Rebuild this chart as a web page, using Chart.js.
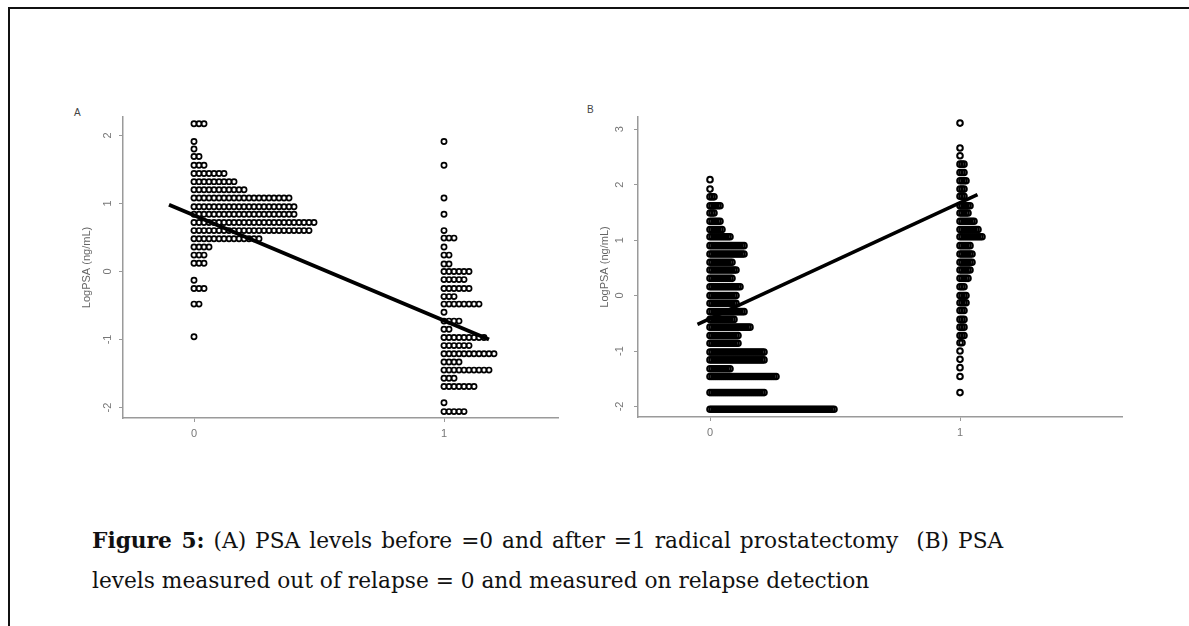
<!DOCTYPE html>
<html>
<head>
<meta charset="utf-8">
<script src="https://cdn.jsdelivr.net/npm/chart.js@4.4.1/dist/chart.umd.min.js"></script>
<style>
  body { margin: 0; background: #fff; width: 1189px; height: 626px; overflow: hidden; position: relative; }
  #frame { position: absolute; left: 8px; top: 7px; width: 1300px; height: 700px; border: 2px solid #111; }
  canvas { position: absolute; }
  .panel { position: absolute; font-family: "Liberation Sans", Arial, sans-serif; font-size: 10px; color: #444; }
  #caption { position: absolute; left: 92px; top: 521px; font-family: "DejaVu Serif", serif; font-size: 21.7px; line-height: 40px; color: #111; white-space: nowrap; }
  #caption .l1 { word-spacing: 2.1px; }
</style>
</head>
<body>
<div id="frame"></div>
<div class="panel" style="left:74px; top:107px;">A</div>
<div class="panel" style="left:587px; top:104px;">B</div>
<canvas id="chartA" width="488" height="350" style="left:80px; top:100px;"></canvas>
<canvas id="chartB" width="534" height="350" style="left:598px; top:100px;"></canvas>
<div id="caption"><span class="l1"><b>Figure 5:</b> (A) PSA levels before =0 and after =1 radical prostatectomy&nbsp; (B) PSA</span><br>levels measured out of relapse = 0 and measured on relapse detection</div>
<script>
// Panel A: LogPSA before (0) and after (1) radical prostatectomy
var levelsA0 = [2.17, 1.91, 1.80, 1.69, 1.56, 1.44, 1.32, 1.20, 1.08, 0.95, 0.84, 0.72, 0.60, 0.48, 0.36, 0.24, 0.12, -0.13, -0.25, -0.48, -0.96];
var countsA0 = [3, 1, 1, 2, 3, 7, 9, 11, 20, 21, 21, 25, 24, 14, 4, 3, 3, 1, 3, 2, 1];
var levelsA1 = [1.91, 1.56, 1.08, 0.84, 0.60, 0.49, 0.36, 0.24, 0.11, 0.00, -0.12, -0.25, -0.37, -0.48, -0.60, -0.73, -0.85, -0.97, -1.09, -1.21, -1.33, -1.45, -1.57, -1.69, -1.93, -2.06];
var countsA1 = [1, 1, 1, 1, 1, 3, 1, 2, 2, 6, 5, 6, 3, 8, 1, 4, 2, 9, 6, 11, 4, 10, 3, 7, 1, 5];
var fitAx = [-0.10, 1.18];
var fitAy = [0.98, -1.00];
var ticksAy = [-2, -1, 0, 1, 2];

// Panel B: LogPSA out of relapse (0) and on relapse detection (1)
var levelsB0 = [2.09, 1.92, 1.78, 1.62, 1.49, 1.34, 1.19, 1.06, 0.90, 0.75, 0.60, 0.46, 0.31, 0.16, 0.00, -0.14, -0.29, -0.43, -0.57, -0.72, -0.86, -1.02, -1.16, -1.32, -1.46, -1.75, -2.05];
var countsB0 = [1, 1, 3, 6, 3, 6, 7, 11, 18, 18, 12, 14, 12, 16, 14, 14, 18, 13, 21, 15, 15, 28, 28, 11, 34, 28, 63];
var levelsB1 = [3.11, 2.66, 2.52, 2.37, 2.22, 2.07, 1.92, 1.79, 1.62, 1.49, 1.34, 1.19, 1.06, 0.90, 0.75, 0.60, 0.46, 0.31, 0.16, 0.00, -0.13, -0.27, -0.43, -0.57, -0.72, -0.85, -1.00, -1.15, -1.30, -1.46, -1.75];
var countsB1 = [1, 1, 1, 3, 3, 4, 3, 3, 6, 5, 8, 10, 12, 6, 7, 7, 6, 5, 3, 4, 4, 3, 3, 3, 3, 2, 1, 1, 1, 1, 1];
var fitBx = [-0.05, 1.07];
var fitBy = [-0.52, 1.82];
var ticksBy = [-2, -1, 0, 1, 2, 3];

var ticksX = [0, 1];

// stack dots sideways from the group position, one per observation
function dots(group, levels, counts, step) {
  var pts = [];
  levels.forEach(function(y, i) {
    for (var k = 0; k < counts[i]; k++) pts.push({ x: group + k * step, y: y });
  });
  return pts;
}

function fitLine(xs, ys) {
  return xs.map(function(x, i) { return { x: x, y: ys[i] }; });
}

var axisGrey = '#9a9a9a';
var labelGrey = '#777';

function makePanel(id, opts) {
  var dotStyle = {
    type: 'scatter',
    pointRadius: opts.radius,
    pointBorderWidth: opts.ring,
    pointBorderColor: '#000',
    pointBackgroundColor: 'rgba(0,0,0,0)',
    pointHoverRadius: opts.radius
  };
  return new Chart(document.getElementById(id), {
    type: 'scatter',
    data: {
      datasets: [
        Object.assign({ data: dots(0, opts.levels0, opts.counts0, opts.step) }, dotStyle),
        Object.assign({ data: dots(1, opts.levels1, opts.counts1, opts.step) }, dotStyle),
        {
          type: 'line',
          data: fitLine(opts.fitX, opts.fitY),
          borderColor: '#000',
          borderWidth: opts.lineWidth,
          pointRadius: 0,
          fill: false
        }
      ]
    },
    options: {
      responsive: false,
      animation: false,
      layout: { padding: { top: 17, right: 10, left: 0, bottom: 0 } },
      plugins: { legend: { display: false }, tooltip: { enabled: false } },
      scales: {
        x: {
          type: 'linear',
          min: opts.xMin,
          max: opts.xMax,
          afterBuildTicks: function(axis) { axis.ticks = ticksX.map(function(v) { return { value: v }; }); },
          afterFit: function(axis) { axis.height = opts.xHeight; },
          grid: { display: true, drawOnChartArea: false, tickLength: 4, color: axisGrey, lineWidth: 1 },
          border: { display: true, color: axisGrey, width: 1.5 },
          ticks: { color: labelGrey, padding: 5, font: { family: 'Liberation Sans', size: 11 } }
        },
        y: {
          type: 'linear',
          min: opts.yMin,
          max: opts.yMax,
          afterBuildTicks: function(axis) { axis.ticks = opts.yTicks.map(function(v) { return { value: v }; }); },
          afterFit: function(axis) { axis.width = opts.yWidth; },
          grid: { display: true, drawOnChartArea: false, tickLength: 4, color: axisGrey, lineWidth: 1 },
          border: { display: true, color: axisGrey, width: 1.5 },
          ticks: { color: labelGrey, padding: opts.tickPad, minRotation: 90, maxRotation: 90, crossAlign: 'center', font: { family: 'Liberation Sans', size: 11 } },
          title: { display: true, text: 'LogPSA (ng/mL)', color: '#666', padding: { top: 0, bottom: 0 }, font: { family: 'Liberation Sans', size: 11 } }
        }
      }
    }
  });
}

makePanel('chartA', {
  levels0: levelsA0, counts0: countsA0, levels1: levelsA1, counts1: countsA1,
  fitX: fitAx, fitY: fitAy, yTicks: ticksAy,
  step: 0.02, radius: 2.6, ring: 1.7, lineWidth: 4,
  xMin: -0.284, xMax: 1.456, yMin: -2.154, yMax: 2.27,
  yWidth: 43, xHeight: 32, tickPad: 6
});

makePanel('chartB', {
  levels0: levelsB0, counts0: countsB0, levels1: levelsB1, counts1: countsB1,
  fitX: fitBx, fitY: fitBy, yTicks: ticksBy,
  step: 0.008, radius: 2.8, ring: 2, lineWidth: 3.5,
  xMin: -0.288, xMax: 1.648, yMin: -2.19, yMax: 3.22,
  yWidth: 40, xHeight: 33, tickPad: 9
});
</script>
</body>
</html>
